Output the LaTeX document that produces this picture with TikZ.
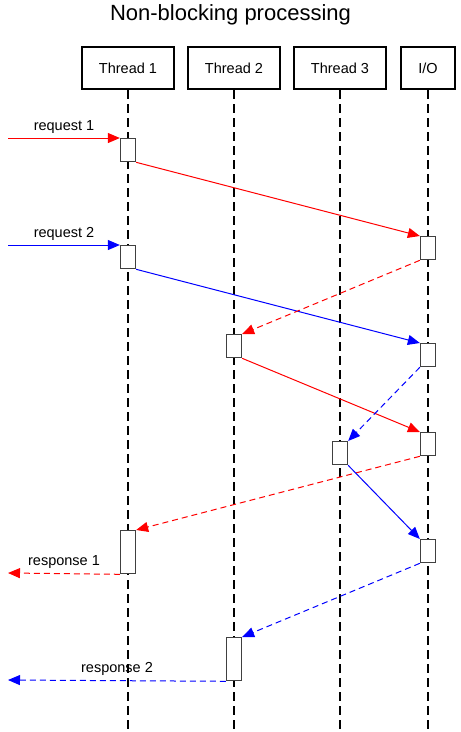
\documentclass[tikz,border=0pt]{standalone}
\usepackage{fontspec}
\setmainfont{Liberation Sans}
\usetikzlibrary{arrows.meta}
\begin{document}
\begin{tikzpicture}[x=1pt,y=-1pt,
  hdr/.style={draw, line width=2.4pt, minimum width=92pt, minimum height=42pt, inner sep=0, font=\fontsize{14.5}{16}\selectfont},
  life/.style={line width=1.2pt, dash pattern=on 9pt off 5pt},
  act/.style={draw=black!75, fill=white, line width=1.3pt, minimum width=15pt, minimum height=23pt, inner sep=0, anchor=north},
  lact/.style={act, minimum height=43pt},
  msg/.style={line width=1pt, -{Triangle[length=12pt,width=10pt]}},
  ret/.style={msg, dash pattern=on 6pt off 4pt},
  lbl/.style={font=\fontsize{14.5}{16}\selectfont, inner sep=0}]
\useasboundingbox (0,0) rectangle (461,732);
\node[font=\fontsize{22}{24}\selectfont] (title) at (230.5,15) {Non-blocking processing};
\node[hdr] (t1) at (128,68) {Thread 1};
\node[hdr] (t2) at (234,68) {Thread 2};
\node[hdr] (t3) at (340,68) {Thread 3};
\node[hdr, minimum width=54pt] (io) at (428,68) {I/O};
\coordinate (t1e) at (128,732);
\coordinate (t2e) at (234,732);
\coordinate (t3e) at (340,732);
\coordinate (ioe) at (428,732);
\draw[life] (t1.south) -- (t1e);
\draw[life] (t2.south) -- (t2e);
\draw[life] (t3.south) -- (t3e);
\draw[life] (io.south) -- (ioe);
% activations
\node[act] (a1) at (128,138) {};
\node[act] (a2) at (128,245) {};
\node[act] (i1) at (428,236) {};
\node[act] (b1) at (234,334) {};
\node[act] (i2) at (428,343) {};
\node[act] (c1) at (340,441) {};
\node[act] (i3) at (428,432) {};
\node[lact] (a3) at (128,530) {};
\node[act] (i4) at (428,539) {};
\node[lact] (b2) at (234,637) {};
% free ends
\coordinate (r1s) at (8,138);
\coordinate (r2s) at (8,245);
\coordinate (p1e) at (8,573);
\coordinate (p2e) at (8,680);
% messages
\draw[msg, red] (r1s) -- (a1.north west);
\node[lbl] (l1) at (64,127) {request 1};
\draw[msg, blue] (r2s) -- (a2.north west);
\node[lbl] (l2) at (64,234) {request 2};
\draw[msg, red] (a1.south east) -- (i1.north west);
\draw[msg, blue] (a2.south east) -- (i2.north west);
\draw[ret, red] (i1.south west) -- (b1.north east);
\draw[msg, red] (b1.south east) -- (i3.north west);
\draw[ret, blue] (i2.south west) -- (c1.north east);
\draw[ret, red] (i3.south west) -- (a3.north east);
\draw[msg, blue] (c1.south east) -- (i4.north west);
\draw[ret, blue] (i4.south west) -- (b2.north east);
\draw[ret, red] (a3.south west) -- (p1e);
\node[lbl] (l3) at (64,562) {response 1};
\draw[ret, blue] (b2.south west) -- (p2e);
\node[lbl] (l4) at (117,669) {response 2};
\end{tikzpicture}
\end{document}
